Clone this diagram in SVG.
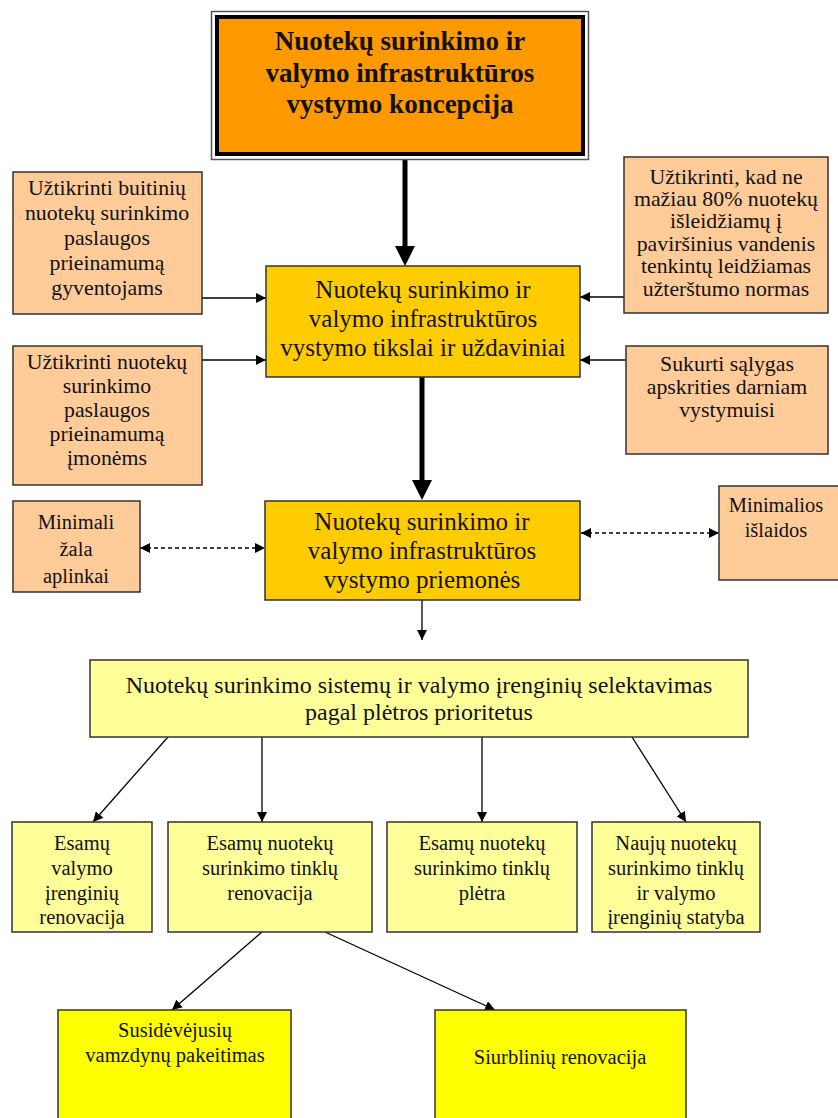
<svg xmlns="http://www.w3.org/2000/svg" width="838" height="1118" viewBox="0 0 838 1118" font-family="'Liberation Serif', 'DejaVu Serif', serif">
<style>
.box{stroke:#333;stroke-width:1.5}
.peach{fill:#FFCC99}
.gold{fill:#FFCC00}
.pale{fill:#FFFF99}
.yel{fill:#FFFF00}
text{font-family:'Liberation Serif','DejaVu Serif',serif;fill:#111;text-anchor:middle}
.t21{font-size:21.8px}
.t24{font-size:25px}
.t23{font-size:24px}
.t20{font-size:20.5px}
.tb{font-size:27px;font-weight:bold}
.ln{stroke:#000;stroke-width:1.3;fill:none}
.th{stroke:#000;stroke-width:5;fill:none}
.dash{stroke:#000;stroke-width:1.3;stroke-dasharray:4 3;fill:none}
</style>
<defs>
<marker id="ah" viewBox="0 0 10 10" refX="10" refY="5" markerWidth="10" markerHeight="10" markerUnits="userSpaceOnUse" orient="auto-start-reverse">
<path d="M0,0 L10,5 L0,10 Z" fill="#000"/>
</marker>
</defs>

<g id="connectors">
<line class="th" x1="405" y1="159" x2="405" y2="248"/>
<polygon points="395,246 415,246 405,266" fill="#000"/>
<line class="th" x1="422" y1="377" x2="422" y2="482"/>
<polygon points="412,480 432,480 422,500" fill="#000"/>
<line class="ln" x1="202" y1="298" x2="266" y2="298" marker-end="url(#ah)"/>
<line class="ln" x1="202" y1="360" x2="266" y2="360" marker-end="url(#ah)"/>
<line class="ln" x1="624" y1="297" x2="580" y2="297" marker-end="url(#ah)"/>
<line class="ln" x1="626" y1="360" x2="580" y2="360" marker-end="url(#ah)"/>
<line class="dash" x1="140" y1="548" x2="265" y2="548" marker-start="url(#ah)" marker-end="url(#ah)"/>
<line class="dash" x1="581" y1="533" x2="719" y2="533" marker-start="url(#ah)" marker-end="url(#ah)"/>
<line class="ln" x1="422" y1="600" x2="422" y2="640" marker-end="url(#ah)"/>
<line class="ln" x1="168" y1="737" x2="93" y2="822" marker-end="url(#ah)"/>
<line class="ln" x1="262" y1="737" x2="262" y2="822" marker-end="url(#ah)"/>
<line class="ln" x1="482" y1="737" x2="482" y2="822" marker-end="url(#ah)"/>
<line class="ln" x1="632" y1="737" x2="686" y2="822" marker-end="url(#ah)"/>
<line class="ln" x1="262" y1="932" x2="172" y2="1010" marker-end="url(#ah)"/>
<line class="ln" x1="325" y1="932" x2="495" y2="1010" marker-end="url(#ah)"/>
</g>

<g id="concept">
<rect x="211.5" y="11.5" width="377" height="148" fill="#fff" stroke="#555" stroke-width="1.5"/>
<rect x="217" y="17" width="366" height="137" fill="#FF9900" stroke="#000" stroke-width="4"/>
<text class="tb" x="400" y="50">Nuotekų surinkimo ir</text>
<text class="tb" x="400" y="82">valymo infrastruktūros</text>
<text class="tb" x="400" y="113">vystymo koncepcija</text>
</g>

<g id="goals">
<rect class="box gold" x="266" y="266" width="314" height="111"/>
<text class="t24" x="423" y="298">Nuotekų surinkimo ir</text>
<text class="t24" x="423" y="327">valymo infrastruktūros</text>
<text class="t24" x="423" y="356">vystymo tikslai ir uždaviniai</text>
</g>

<g id="left1">
<rect class="box peach" x="13" y="172" width="189" height="142"/>
<text class="t21" x="107" y="195">Užtikrinti buitinių</text>
<text class="t21" x="107" y="220">nuotekų surinkimo</text>
<text class="t21" x="107" y="245">paslaugos</text>
<text class="t21" x="107" y="270">prieinamumą</text>
<text class="t21" x="107" y="295">gyventojams</text>
</g>

<g id="left2">
<rect class="box peach" x="13" y="346" width="189" height="139"/>
<text class="t21" x="107" y="369">Užtikrinti nuotekų</text>
<text class="t21" x="107" y="393">surinkimo</text>
<text class="t21" x="107" y="417">paslaugos</text>
<text class="t21" x="107" y="441">prieinamumą</text>
<text class="t21" x="107" y="465">įmonėms</text>
</g>

<g id="right1">
<rect class="box peach" x="624" y="157" width="204" height="156"/>
<text class="t21" x="726" y="184">Užtikrinti, kad ne</text>
<text class="t21" x="726" y="206">mažiau 80% nuotekų</text>
<text class="t21" x="726" y="228">išleidžiamų į</text>
<text class="t21" x="726" y="251">paviršinius vandenis</text>
<text class="t21" x="726" y="273">tenkintų leidžiamas</text>
<text class="t21" x="726" y="296">užterštumo normas</text>
</g>

<g id="right2">
<rect class="box peach" x="626" y="346" width="202" height="108"/>
<text class="t21" x="727" y="371">Sukurti sąlygas</text>
<text class="t21" x="727" y="394">apskrities darniam</text>
<text class="t21" x="727" y="417">vystymuisi</text>
</g>

<g id="measures">
<rect class="box gold" x="265" y="501" width="315" height="99"/>
<text class="t24" x="422" y="530">Nuotekų surinkimo ir</text>
<text class="t24" x="422" y="559">valymo infrastruktūros</text>
<text class="t24" x="422" y="588">vystymo priemonės</text>
</g>

<g id="minharm">
<rect class="box peach" x="13" y="501" width="127" height="91"/>
<text class="t20" x="76" y="529">Minimali</text>
<text class="t20" x="76" y="556">žala</text>
<text class="t20" x="76" y="583">aplinkai</text>
</g>

<g id="mincost">
<rect class="box peach" x="719" y="486" width="125" height="94"/>
<text class="t20" x="776" y="512">Minimalios</text>
<text class="t20" x="776" y="537">išlaidos</text>
</g>

<g id="selection">
<rect class="box pale" x="90" y="660" width="658" height="77"/>
<text class="t23" x="419" y="693">Nuotekų surinkimo sistemų ir valymo įrenginių selektavimas</text>
<text class="t23" x="419" y="720">pagal plėtros prioritetus</text>
</g>

<g id="rowA">
<rect class="box pale" x="12" y="822" width="140" height="110"/>
<text class="t20" x="82" y="850">Esamų</text>
<text class="t20" x="82" y="875">valymo</text>
<text class="t20" x="82" y="900">įrenginių</text>
<text class="t20" x="82" y="924">renovacija</text>
</g>

<g id="rowB">
<rect class="box pale" x="168" y="822" width="204" height="110"/>
<text class="t20" x="270" y="850">Esamų nuotekų</text>
<text class="t20" x="270" y="875">surinkimo tinklų</text>
<text class="t20" x="270" y="900">renovacija</text>
</g>

<g id="rowC">
<rect class="box pale" x="387" y="822" width="190" height="110"/>
<text class="t20" x="482" y="850">Esamų nuotekų</text>
<text class="t20" x="482" y="875">surinkimo tinklų</text>
<text class="t20" x="482" y="900">plėtra</text>
</g>

<g id="rowD">
<rect class="box pale" x="592" y="822" width="168" height="110"/>
<text class="t20" x="676" y="850">Naujų nuotekų</text>
<text class="t20" x="676" y="875">surinkimo tinklų</text>
<text class="t20" x="676" y="900">ir valymo</text>
<text class="t20" x="676" y="924">įrenginių statyba</text>
</g>

<g id="pipes">
<rect class="box yel" x="58" y="1010" width="233" height="115"/>
<text class="t20" x="175" y="1037">Susidėvėjusių</text>
<text class="t20" x="175" y="1062">vamzdynų pakeitimas</text>
</g>

<g id="pumps">
<rect class="box yel" x="435" y="1010" width="251" height="115"/>
<text class="t20" x="560" y="1064">Siurblinių renovacija</text>
</g>
</svg>
